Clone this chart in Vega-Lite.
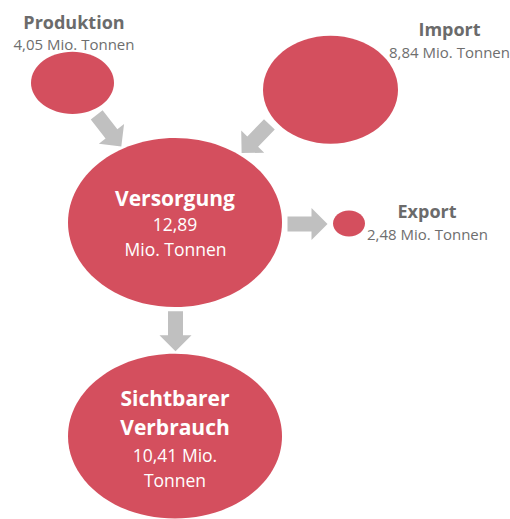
{
  "$schema": "https://vega.github.io/schema/vega-lite/v6.json",
  "autosize": {"type": "fit", "contains": "padding"},
  "width": 510,
  "height": 519,
  "padding": 0,
  "background": "white",
  "config": {"view": {"stroke": null}},
  "datasets": {
    "nodes": [
      {"node": "Produktion", "value": 4.05, "x": 72.5, "y": 83},
      {"node": "Import", "value": 8.84, "x": 330.5, "y": 90},
      {"node": "Versorgung", "value": 12.89, "x": 175, "y": 223},
      {"node": "Export", "value": 2.48, "x": 349, "y": 224},
      {"node": "Sichtbarer Verbrauch", "value": 10.41, "x": 175, "y": 437}
    ],
    "flows": [
      {"flow": "Produktion → Versorgung", "x": 109, "y": 131},
      {"flow": "Import → Versorgung", "x": 255.5, "y": 139},
      {"flow": "Versorgung → Export", "x": 307.5, "y": 224.5},
      {"flow": "Versorgung → Sichtbarer Verbrauch", "x": 175.5, "y": 332}
    ],
    "titles": [
      {"text": "Produktion", "place": "outside", "x": 74, "y": 29},
      {"text": "Import", "place": "outside", "x": 449.5, "y": 36},
      {"text": "Export", "place": "outside", "x": 427, "y": 218},
      {"text": "Versorgung", "place": "inside", "x": 175, "y": 206.5},
      {"text": "Sichtbarer", "place": "inside", "x": 175, "y": 407},
      {"text": "Verbrauch", "place": "inside", "x": 175, "y": 435.5}
    ],
    "values": [
      {"text": "4,05 Mio. Tonnen", "place": "outside", "x": 74, "y": 50.5},
      {"text": "8,84 Mio. Tonnen", "place": "outside", "x": 449.5, "y": 58},
      {"text": "2,48 Mio. Tonnen", "place": "outside", "x": 427.5, "y": 240},
      {"text": "12,89", "place": "inside", "x": 175, "y": 231.5},
      {"text": "Mio. Tonnen", "place": "inside", "x": 175.5, "y": 256},
      {"text": "10,41 Mio.", "place": "inside", "x": 175, "y": 463},
      {"text": "Tonnen", "place": "inside", "x": 175, "y": 488}
    ]
  },
  "encoding": {
    "x": {"field": "x", "type": "quantitative", "scale": {"domain": [0, 510], "nice": false, "zero": false}, "axis": null},
    "y": {"field": "y", "type": "quantitative", "scale": {"domain": [0, 519], "nice": false, "zero": false, "reverse": true}, "axis": null}
  },
  "layer": [
    {
      "data": {"name": "flows"},
      "mark": {"type": "point", "filled": true, "opacity": 1, "size": 1600, "color": "#C0C0C0", "strokeWidth": 0,
        "shape": "M-1,-0.375 L0.2,-0.375 L0.2,-0.8 L1,0 L0.2,0.8 L0.2,0.375 L-1,0.375 Z"},
      "encoding": {
        "angle": {"field": "flow", "type": "nominal", "legend": null,
          "scale": {"type": "ordinal", "domain": ["Produktion → Versorgung", "Import → Versorgung", "Versorgung → Export", "Versorgung → Sichtbarer Verbrauch"], "range": [52, 134, 0, 90]}}
      }
    },
    {
      "data": {"name": "nodes"},
      "mark": {"type": "point", "filled": true, "opacity": 1, "color": "#D44F5E", "strokeWidth": 0},
      "encoding": {
        "size": {"field": "value", "type": "quantitative", "legend": null,
          "scale": {"type": "linear", "zero": false, "nice": false, "domain": [2.48, 4.05, 8.84, 10.41, 12.89], "range": [1024, 6889, 18225, 45796, 45796]}},
        "shape": {"field": "node", "type": "nominal", "legend": null,
          "scale": {"domain": ["Produktion", "Import", "Versorgung", "Export", "Sichtbarer Verbrauch"],
            "range": [
              "M-1,0 A1,0.75 0 1,1 1,0 A1,0.75 0 1,1 -1,0 Z",
              "M-1,0 A1,0.8 0 1,1 1,0 A1,0.8 0 1,1 -1,0 Z",
              "M-1,0 A1,0.79 0 1,1 1,0 A1,0.79 0 1,1 -1,0 Z",
              "M-1,0 A1,0.81 0 1,1 1,0 A1,0.81 0 1,1 -1,0 Z",
              "M-1,0 A1,0.77 0 1,1 1,0 A1,0.77 0 1,1 -1,0 Z"
            ]}}
      }
    },
    {
      "data": {"name": "titles"},
      "mark": {"type": "text", "font": "Open Sans", "fontWeight": "bold", "align": "center", "baseline": "alphabetic"},
      "encoding": {
        "text": {"field": "text"},
        "color": {"field": "place", "type": "nominal", "legend": null, "scale": {"domain": ["outside", "inside"], "range": ["#6B6B6B", "#FFFFFF"]}},
        "size": {"field": "place", "type": "ordinal", "legend": null, "scale": {"domain": ["outside", "inside"], "range": [18, 21]}}
      }
    },
    {
      "data": {"name": "values"},
      "mark": {"type": "text", "font": "Open Sans", "align": "center", "baseline": "alphabetic"},
      "encoding": {
        "text": {"field": "text"},
        "color": {"field": "place", "type": "nominal", "legend": null, "scale": {"domain": ["outside", "inside"], "range": ["#6E6E6E", "#FFFFFF"]}},
        "size": {"field": "place", "type": "ordinal", "legend": null, "scale": {"domain": ["outside", "inside"], "range": [15, 17.5]}}
      }
    }
  ],
  "resolve": {"scale": {"color": "independent", "size": "independent", "shape": "independent", "angle": "independent"}}
}
